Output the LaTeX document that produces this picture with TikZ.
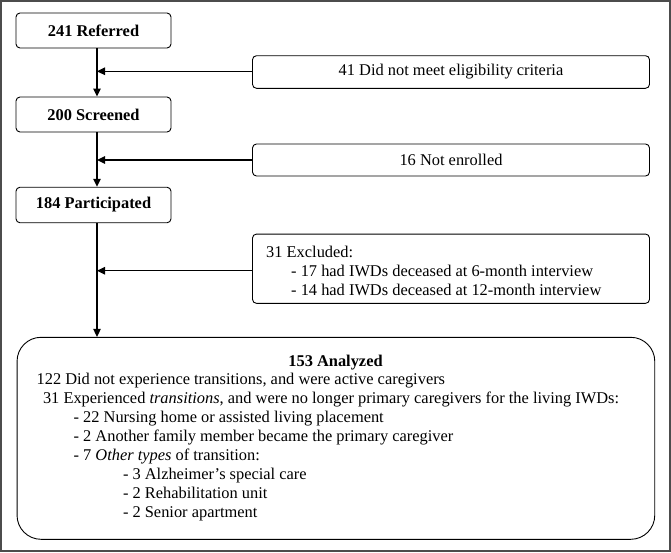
\documentclass[tikz,border=0pt]{standalone}
\usepackage{fontspec}
\setmainfont{Liberation Serif}
\usetikzlibrary{arrows.meta}
\begin{document}
\begin{tikzpicture}[x=1pt,y=-1pt,
  font=\fontsize{16.4}{19}\selectfont,
  box/.style={draw, line width=0.9pt, rounded corners=4pt, inner sep=0pt},
  leftbox/.style={box, minimum width=155pt, minimum height=35pt, font=\fontsize{16.4}{19}\selectfont\bfseries},
  rightbox/.style={box, minimum width=397pt},
  arr/.style={line width=1.3pt, -{Triangle[length=8pt,width=7.5pt]}},
  txt/.style={anchor=base west, inner sep=0pt},
  frame/.style={draw=black!70, line width=1.6pt}]
\useasboundingbox (0,0) rectangle (671,552);
\draw[frame] (0.8,0.8) rectangle (670.2,551.2);
\coordinate (sp) at (97,0);
% left column
\node[leftbox] (ref) at (93.5,30.5) {241 Referred};
\node[leftbox] (scr) at (93.5,114.5) {200 Screened};
\node[leftbox, minimum height=35.5pt] (par) at (93.5,205) {184 Participated};
% right column
\node[rightbox, minimum height=32.6pt] (elig) at (451,72) {41 Did not meet eligibility criteria};
\node[rightbox, minimum height=32pt] (enr) at (451,160) {16 Not enrolled};
\node[rightbox, minimum height=69.3pt] (exc) at (451,268.7) {};
\node[txt] (e1) at (266,257) {31 Excluded:};
\node[txt] (e2) at (291,276.3) {- 17 had IWDs deceased at 6-month interview};
\node[txt] (e3) at (291,295) {- 14 had IWDs deceased at 12-month interview};
% analyzed box
\node[draw, line width=0.9pt, rounded corners=24pt, minimum width=637.7pt, minimum height=202pt] (ana) at (335.9,438.3) {};
\node[anchor=base, inner sep=0pt, font=\fontsize{16.4}{19}\selectfont\bfseries] (a0) at (335.5,366) {153 Analyzed};
\node[txt] (a1) at (36.4,384.5) {122 Did not experience transitions, and were active caregivers};
\node[txt] (a2) at (42.8,403.5) {31 Experienced \textit{transitions}, and were no longer primary caregivers for the living IWDs:};
\node[txt] (a3) at (73.4,422) {- 22 Nursing home or assisted living placement};
\node[txt] (a4) at (73.4,441) {- 2 Another family member became the primary caregiver};
\node[txt] (a5) at (73.4,460) {- 7 \textit{Other types} of transition:};
\node[txt] (a6) at (122.8,479) {- 3 Alzheimer’s special care};
\node[txt] (a7) at (122.8,498) {- 2 Rehabilitation unit};
\node[txt] (a8) at (122.8,517) {- 2 Senior apartment};
% connectors
\draw[arr] (ref.south -| sp) -- (scr.north -| sp);
\draw[arr] (scr.south -| sp) -- (par.north -| sp);
\draw[arr] (par.south -| sp) -- (ana.north -| sp);
\draw[arr] ([yshift=0.7pt]elig.west) -- ([yshift=0.7pt]elig.west -| sp);
\draw[arr] (enr.west) -- (enr.west -| sp);
\draw[arr] ([yshift=-2pt]exc.west) -- ([yshift=-2pt]exc.west -| sp);
\end{tikzpicture}
\end{document}
